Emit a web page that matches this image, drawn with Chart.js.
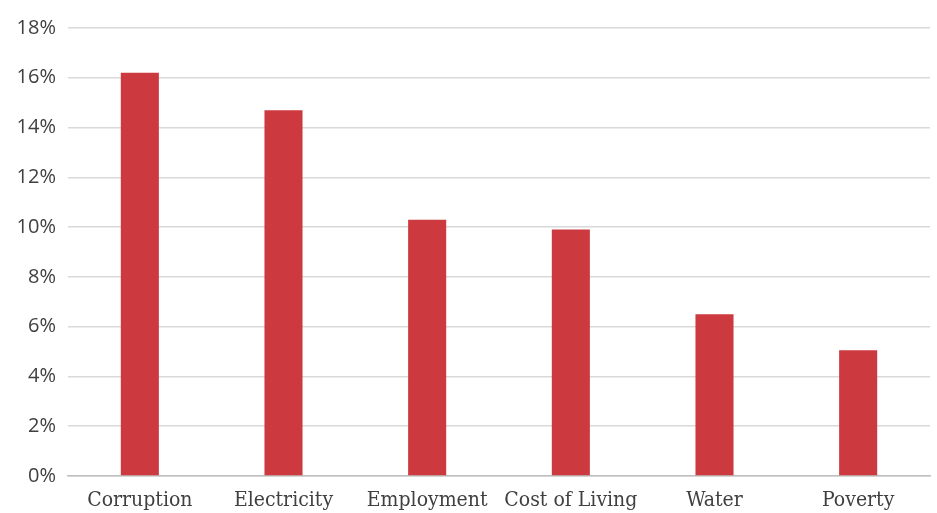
<!DOCTYPE html>
<html lang="en">
<head>
    <meta charset="UTF-8">
    <title>Issues</title>
    <script src="https://cdn.jsdelivr.net/npm/chart.js"></script>
    <style>
        html, body { margin: 0; padding: 0; background: #fff; }
        #wrap { width: 937px; height: 513px; }
    </style>
</head>
<body>
    <div id="wrap"><canvas id="issueChart"></canvas></div>
    <script>
        // values, in percent
        let categories = ["Corruption", "Electricity", "Employment", "Cost of Living", "Water", "Poverty"];
        let shares = [16.2, 14.7, 10.3, 9.9, 6.5, 5.05];
        let yTicks = [0, 2, 4, 6, 8, 10, 12, 14, 16, 18];

        let ctx = document.getElementById("issueChart").getContext("2d");
        new Chart(ctx, {
            type: "bar",
            data: {
                labels: categories,
                datasets: [{
                    data: shares,
                    backgroundColor: "#CC3A3F",
                    borderWidth: 0,
                    categoryPercentage: 1,
                    barPercentage: 0.265
                }]
            },
            options: {
                responsive: true,
                maintainAspectRatio: false,
                animation: false,
                layout: { padding: { top: 28, right: 7, left: 0, bottom: 0 } },
                plugins: { legend: { display: false }, tooltip: { enabled: false } },
                scales: {
                    x: {
                        grid: { display: false, drawTicks: false },
                        border: { display: true, color: "#BFBFBF", width: 1.5 },
                        ticks: {
                            color: "#404040",
                            padding: 12,
                            maxRotation: 0,
                            autoSkip: false,
                            font: { family: "'DejaVu Serif Condensed', 'DejaVu Serif', serif", size: 21 }
                        },
                        afterFit: function(scale) { scale.height = 37; }
                    },
                    y: {
                        min: 0,
                        max: 18,
                        afterBuildTicks: function(scale) {
                            scale.ticks = yTicks.map(v => ({ value: v }));
                        },
                        grid: { color: "#D9D9D9", lineWidth: 1.5, drawTicks: false },
                        border: { display: false },
                        ticks: {
                            color: "#404040",
                            padding: 12,
                            font: { family: "'Open Sans', sans-serif", size: 20 },
                            callback: v => v + "%"
                        },
                        afterFit: function(scale) { scale.width = 68; }
                    }
                }
            }
        });
    </script>
</body>
</html>
